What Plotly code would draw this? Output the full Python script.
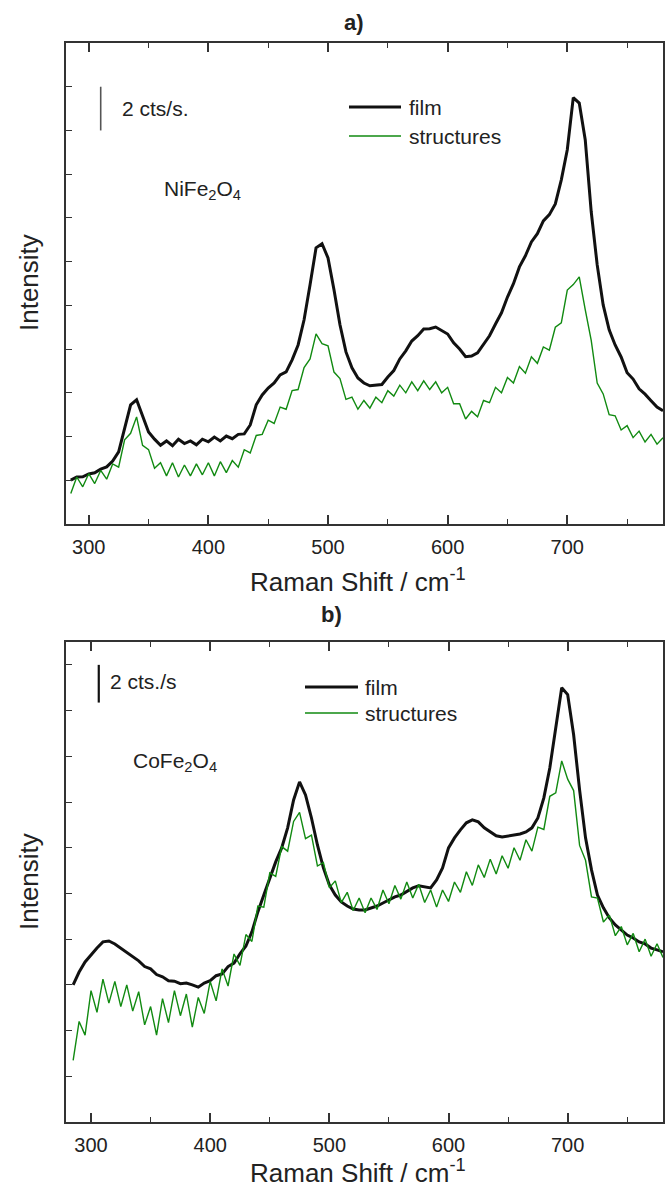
import plotly.graph_objects as go

# Raman shift grid (cm^-1), 5 cm^-1 sampling
shift = list(range(285, 781, 5))

# Panel a) NiFe2O4  (intensity in cts/s, arbitrary offset)
ni_film = [
    2.01, 2.15, 2.16, 2.29, 2.34, 2.51, 2.61, 2.88, 3.30, 4.39,
    5.45, 5.68, 4.99, 4.21, 3.88, 3.60, 3.80, 3.58, 3.88, 3.68,
    3.80, 3.62, 3.88, 3.76, 3.98, 3.80, 4.02, 3.90, 4.10, 4.12,
    4.53, 5.45, 5.90, 6.22, 6.45, 6.82, 6.96, 7.51, 8.19, 9.34,
    10.94, 12.63, 12.82, 12.17, 10.71, 9.11, 7.87, 7.14, 6.68, 6.45,
    6.32, 6.36, 6.38, 6.72, 7.02, 7.55, 7.92, 8.37, 8.61, 8.92,
    8.93, 9.01, 8.84, 8.69, 8.29, 8.00, 7.65, 7.68, 7.83, 8.23,
    8.61, 9.15, 9.66, 10.38, 10.99, 11.76, 12.27, 12.90, 13.28, 13.86,
    14.15, 14.64, 15.74, 17.12, 19.50, 19.25, 17.58, 14.28, 11.85, 10.02,
    8.88, 8.19, 7.64, 6.92, 6.63, 6.18, 5.94, 5.64, 5.35, 5.18,
]
ni_struct = [
    1.40, 2.15, 1.70, 2.30, 1.85, 2.45, 2.05, 2.75, 2.60, 3.85,
    4.15, 4.90, 3.60, 3.40, 2.55, 2.80, 2.20, 2.80, 2.15, 2.70,
    2.20, 2.75, 2.25, 2.80, 2.20, 2.85, 2.35, 2.90, 2.60, 3.40,
    3.25, 4.05, 4.10, 4.75, 4.60, 5.35, 5.25, 6.10, 6.15, 7.15,
    7.55, 8.70, 8.25, 8.15, 6.95, 6.65, 5.70, 5.80, 5.25, 5.65,
    5.30, 5.80, 5.55, 6.10, 5.85, 6.35, 6.00, 6.50, 6.10, 6.55,
    6.15, 6.50, 6.00, 6.25, 5.50, 5.50, 4.80, 5.15, 4.90, 5.65,
    5.55, 6.25, 6.00, 6.70, 6.45, 7.20, 6.90, 7.65, 7.35, 8.10,
    7.95, 9.00, 9.20, 10.70, 10.95, 11.30, 9.80, 8.40, 6.45, 5.95,
    5.00, 4.95, 4.30, 4.50, 3.95, 4.25, 3.75, 4.10, 3.65, 3.95,
]

# Panel b) CoFe2O4
co_film = [
    6.00, 6.56, 7.00, 7.31, 7.61, 7.88, 7.92, 7.79, 7.61, 7.40,
    7.22, 7.05, 6.80, 6.70, 6.45, 6.35, 6.18, 6.16, 6.05, 6.08,
    6.00, 5.90, 6.08, 6.18, 6.40, 6.48, 6.80, 6.95, 7.36, 7.70,
    8.32, 9.19, 9.93, 10.68, 11.38, 11.99, 12.87, 14.09, 14.88, 14.31,
    13.30, 12.12, 11.12, 10.37, 9.93, 9.63, 9.45, 9.32, 9.28, 9.28,
    9.37, 9.45, 9.58, 9.72, 9.85, 9.93, 10.07, 10.24, 10.33, 10.28,
    10.24, 10.59, 11.12, 11.99, 12.43, 12.78, 13.09, 13.22, 13.13, 12.87,
    12.69, 12.52, 12.47, 12.52, 12.56, 12.60, 12.69, 12.87, 13.30, 14.18,
    15.49, 17.24, 19.00, 18.70, 16.94, 14.53, 12.43, 11.03, 9.93, 9.37,
    8.93, 8.62, 8.40, 8.18, 8.05, 7.88, 7.79, 7.61, 7.53, 7.44,
]
co_struct = [
    2.70, 4.40, 3.80, 5.75, 4.80, 6.25, 5.20, 6.15, 5.05, 6.00,
    4.85, 5.70, 4.25, 5.05, 3.80, 5.40, 4.35, 5.75, 4.65, 5.60,
    4.15, 5.45, 4.75, 6.15, 5.30, 6.70, 5.95, 7.35, 6.85, 8.20,
    7.90, 9.45, 9.40, 10.90, 10.75, 12.05, 11.85, 13.15, 13.55, 12.40,
    12.55, 11.20, 11.35, 10.25, 10.55, 9.60, 10.05, 9.25, 9.80, 9.15,
    9.80, 9.30, 10.15, 9.55, 10.35, 9.75, 10.50, 9.80, 10.40, 9.60,
    10.15, 9.40, 10.15, 9.65, 10.50, 10.05, 10.95, 10.35, 11.25, 10.70,
    11.50, 10.85, 11.65, 11.10, 12.00, 11.45, 12.35, 11.85, 12.90, 12.80,
    14.25, 14.40, 15.80, 15.00, 14.50, 12.10, 11.45, 9.85, 9.80, 8.75,
    9.05, 8.15, 8.55, 7.75, 8.25, 7.45, 8.00, 7.25, 7.80, 7.20,
]

series_names = ["film", "structures"]
panel_titles = ["a)", "b)"]
materials = ["NiFe<sub>2</sub>O<sub>4</sub>", "CoFe<sub>2</sub>O<sub>4</sub>"]
scale_texts = ["2 cts/s.", "2 cts./s"]
x_ticks = [300, 400, 500, 600, 700]

for arr in (ni_film, ni_struct, co_film, co_struct):
    assert len(arr) == len(shift)

W, H = 665, 1189
FONT = "Liberation Sans, Arial, sans-serif"
TXT = "#222222"
BLACK = "#111111"
GREEN = "#118a11"

def px(x):
    return x / W

def py(y):
    return 1 - y / H

fig = go.Figure()
fig.add_trace(go.Scatter(x=shift, y=ni_film, mode="lines", name=series_names[0],
                         line=dict(color=BLACK, width=3), xaxis="x", yaxis="y", showlegend=False))
fig.add_trace(go.Scatter(x=shift, y=ni_struct, mode="lines", name=series_names[1],
                         line=dict(color=GREEN, width=1.4), xaxis="x", yaxis="y", showlegend=False))
fig.add_trace(go.Scatter(x=shift, y=co_film, mode="lines", name=series_names[0],
                         line=dict(color=BLACK, width=3), xaxis="x2", yaxis="y2", showlegend=False))
fig.add_trace(go.Scatter(x=shift, y=co_struct, mode="lines", name=series_names[1],
                         line=dict(color=GREEN, width=1.4), xaxis="x2", yaxis="y2", showlegend=False))

xcommon = dict(
    showline=True, linecolor="#333333", linewidth=1.6, mirror="allticks",
    ticks="inside", ticklen=9, tickwidth=1.6, tickcolor="#333333",
    tickvals=x_ticks, showgrid=False, zeroline=False,
    tickfont=dict(family=FONT, size=20, color=TXT),
    minor=dict(dtick=50, tick0=300, ticks="inside", ticklen=5, tickwidth=1.4,
               tickcolor="#333333", showgrid=False),
    ticklabelstandoff=4,
)
ycommon = dict(
    showline=True, linecolor="#333333", linewidth=1.6, mirror=True,
    ticks="inside", ticklen=6, tickwidth=1.4, tickcolor="#333333",
    dtick=2, tick0=0, showticklabels=False, showgrid=False, zeroline=False,
)

dom_x = [px(66), px(663)]
fig.update_layout(
    width=W, height=H,
    margin=dict(l=0, r=0, t=0, b=0),
    paper_bgcolor="white", plot_bgcolor="white",
    xaxis=dict(domain=dom_x, range=[281, 780], anchor="y", **xcommon),
    yaxis=dict(domain=[py(524), py(43)], range=[0, 22], anchor="x", **ycommon),
    xaxis2=dict(domain=dom_x, range=[279, 780], anchor="y2", **xcommon),
    yaxis2=dict(domain=[py(1122), py(642)], range=[0, 21], anchor="x2", **ycommon),
)

shapes = []
annotations = []

# scale bars (data coordinates)
shapes.append(dict(type="line", xref="x", yref="y", x0=310, x1=310, y0=18, y1=20,
                   line=dict(color="#555555", width=1.6)))
shapes.append(dict(type="line", xref="x2", yref="y2", x0=306.5, x1=306.5, y0=18.35, y1=20.0,
                   line=dict(color="#111111", width=2.2)))

# legends (drawn manually)
leg = [
    # (line x0, line x1, y film, y structures, text x)
    (349, 401, 107, 136, 407),
    (305, 358, 687, 713, 363),
]
for (lx0, lx1, yf, ys, tx) in leg:
    shapes.append(dict(type="line", xref="paper", yref="paper", x0=px(lx0), x1=px(lx1),
                       y0=py(yf), y1=py(yf), line=dict(color=BLACK, width=3)))
    shapes.append(dict(type="line", xref="paper", yref="paper", x0=px(lx0), x1=px(lx1),
                       y0=py(ys), y1=py(ys), line=dict(color=GREEN, width=1.4)))
    for yy, name in ((yf, series_names[0]), (ys, series_names[1])):
        annotations.append(dict(text=name, x=px(tx), y=py(yy), xref="paper", yref="paper",
                                xanchor="left", yanchor="middle", showarrow=False,
                                font=dict(family=FONT, size=21, color=TXT)))

# panel letters
for txt, cx, cy in ((panel_titles[0], 354, 23), (panel_titles[1], 331, 614)):
    annotations.append(dict(text="<b>" + txt + "</b>", x=px(cx), y=py(cy), xref="paper", yref="paper",
                            xanchor="center", yanchor="middle", showarrow=False,
                            font=dict(family=FONT, size=22, color=TXT)))

# material labels
for txt, lx, cy in ((materials[0], 162, 190), (materials[1], 131, 762)):
    annotations.append(dict(text=txt, x=px(lx), y=py(cy), xref="paper", yref="paper",
                            xanchor="left", yanchor="middle", showarrow=False,
                            font=dict(family=FONT, size=21, color=TXT)))

# scale bar texts
for txt, lx, cy in ((scale_texts[0], 120, 109), (scale_texts[1], 108, 682)):
    annotations.append(dict(text=txt, x=px(lx), y=py(cy), xref="paper", yref="paper",
                            xanchor="left", yanchor="middle", showarrow=False,
                            font=dict(family=FONT, size=21, color=TXT)))

# axis titles
for cy in (283, 882):
    annotations.append(dict(text="Intensity", x=px(29), y=py(cy), xref="paper", yref="paper",
                            xanchor="center", yanchor="middle", textangle=-90, showarrow=False,
                            font=dict(family=FONT, size=26, color=TXT)))
for cy in (580, 1171):
    annotations.append(dict(text="Raman Shift / cm<sup>-1</sup>", x=px(358), y=py(cy),
                            xref="paper", yref="paper", xanchor="center", yanchor="middle",
                            showarrow=False, font=dict(family=FONT, size=26, color=TXT)))

fig.update_layout(shapes=shapes, annotations=annotations)
fig.write_html("out.html")
